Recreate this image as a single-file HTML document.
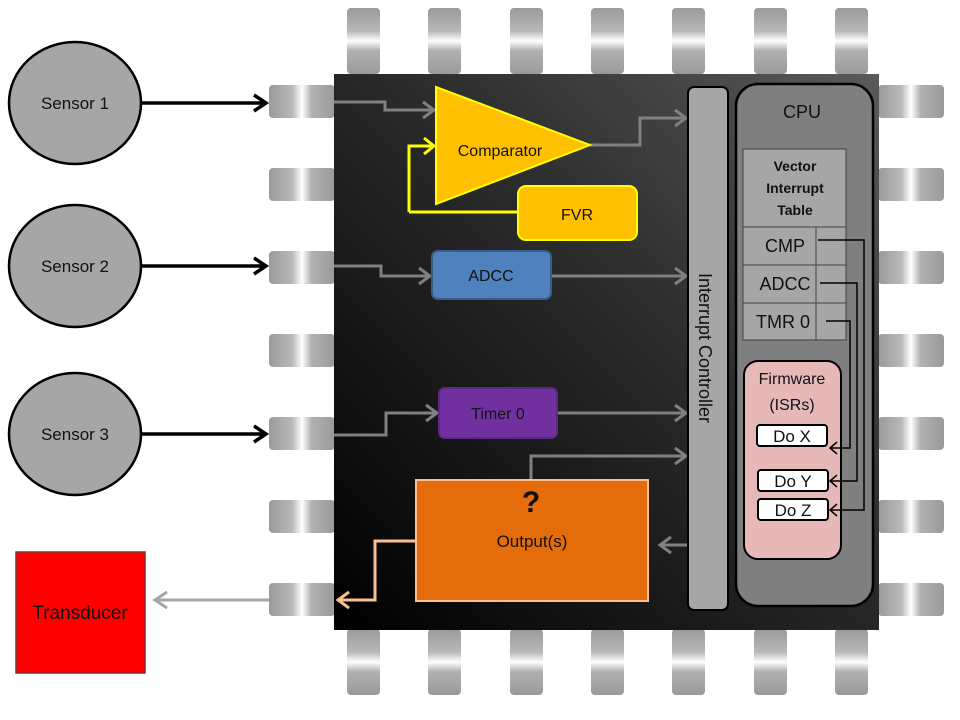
<!DOCTYPE html>
<html><head><meta charset="utf-8"><style>
html,body{margin:0;padding:0;background:#fff;width:960px;height:720px;overflow:hidden}
svg{display:block}
text{font-family:"Liberation Sans",sans-serif}
</style></head><body>
<svg width="960" height="720" viewBox="0 0 960 720" xmlns="http://www.w3.org/2000/svg">
<defs>
<linearGradient id="ph" x1="0" y1="0" x2="1" y2="0">
<stop offset="0" stop-color="#9a9a9a"/><stop offset="0.35" stop-color="#b8b8b8"/><stop offset="0.5" stop-color="#ffffff"/><stop offset="0.65" stop-color="#b0b0b0"/><stop offset="1" stop-color="#9a9a9a"/></linearGradient>
<linearGradient id="pv" x1="0" y1="0" x2="0" y2="1">
<stop offset="0" stop-color="#9a9a9a"/><stop offset="0.35" stop-color="#b8b8b8"/><stop offset="0.5" stop-color="#ffffff"/><stop offset="0.65" stop-color="#b0b0b0"/><stop offset="1" stop-color="#9a9a9a"/></linearGradient>
<linearGradient id="body" x1="1" y1="0" x2="0" y2="1">
<stop offset="0" stop-color="#5a5a5a"/><stop offset="0.45" stop-color="#2a2a2a"/><stop offset="1" stop-color="#000"/></linearGradient>
</defs>
<!-- top/bottom pins -->
<g fill="url(#pv)">
<rect x="347" y="8" width="33" height="66" rx="4"/><rect x="428" y="8" width="33" height="66" rx="4"/><rect x="510" y="8" width="33" height="66" rx="4"/><rect x="591" y="8" width="33" height="66" rx="4"/><rect x="672" y="8" width="33" height="66" rx="4"/><rect x="754" y="8" width="33" height="66" rx="4"/><rect x="835" y="8" width="33" height="66" rx="4"/>
<rect x="347" y="629" width="33" height="66" rx="4"/><rect x="428" y="629" width="33" height="66" rx="4"/><rect x="510" y="629" width="33" height="66" rx="4"/><rect x="591" y="629" width="33" height="66" rx="4"/><rect x="672" y="629" width="33" height="66" rx="4"/><rect x="754" y="629" width="33" height="66" rx="4"/><rect x="835" y="629" width="33" height="66" rx="4"/>
</g>
<g fill="url(#ph)">
<rect x="269" y="85" width="66" height="33" rx="4"/><rect x="269" y="168" width="66" height="33" rx="4"/><rect x="269" y="251" width="66" height="33" rx="4"/><rect x="269" y="334" width="66" height="33" rx="4"/><rect x="269" y="417" width="66" height="33" rx="4"/><rect x="269" y="500" width="66" height="33" rx="4"/><rect x="269" y="583" width="66" height="33" rx="4"/>
<rect x="878" y="85" width="66" height="33" rx="4"/><rect x="878" y="168" width="66" height="33" rx="4"/><rect x="878" y="251" width="66" height="33" rx="4"/><rect x="878" y="334" width="66" height="33" rx="4"/><rect x="878" y="417" width="66" height="33" rx="4"/><rect x="878" y="500" width="66" height="33" rx="4"/><rect x="878" y="583" width="66" height="33" rx="4"/>
</g>
<rect x="334" y="74" width="545" height="556" fill="url(#body)"/>
<!-- sensors -->
<g fill="#a6a6a6" stroke="#000" stroke-width="2.5">
<ellipse cx="75" cy="103" rx="66" ry="61"/><ellipse cx="75" cy="266" rx="66" ry="61"/><ellipse cx="75" cy="434" rx="66" ry="61"/>
</g>
<g font-size="17" fill="#111" text-anchor="middle">
<text x="75" y="109">Sensor  1</text><text x="75" y="272">Sensor  2</text><text x="75" y="440">Sensor  3</text>
</g>
<g stroke="#000" stroke-width="3.5" fill="none">
<path d="M141 103H266M254 95l12 8l-12 8"/><path d="M141 266H266M254 258l12 8l-12 8"/><path d="M141 434H266M254 426l12 8l-12 8"/>
</g>
<!-- transducer -->
<rect x="16" y="552" width="129" height="121" fill="#ff0000" stroke="#8b2a2a" stroke-width="1.5"/>
<text x="80" y="619" font-size="19" text-anchor="middle" fill="#111">Transducer</text>
<path d="M269 600H155M167 592l-12 8l12 8" stroke="#a6a6a6" stroke-width="3" fill="none"/>
<!-- gray connectors -->
<g stroke="#808080" stroke-width="3" fill="none">
<path d="M334 102H385V110H434M423 102l11 8l-11 8"/>
<path d="M590 145H640V118H686M675 110l11 8l-11 8"/>
<path d="M334 266H381V276H430M419 268l11 8l-11 8"/>
<path d="M551 276H686M675 268l11 8l-11 8"/>
<path d="M334 435H386V413H437M426 405l11 8l-11 8"/>
<path d="M557 413H686M675 405l11 8l-11 8"/>
<path d="M531 480V456H686M675 448l11 8l-11 8"/>
<path d="M688 545H660M671 537l-11 8l11 8"/>
</g>
<!-- comparator -->
<path d="M409 212V146H434M424 138l10 8l-10 8" stroke="#ffff00" stroke-width="3" fill="none"/>
<path d="M409 212H520" stroke="#ffff00" stroke-width="3"/>
<polygon points="436,87 436,204 590,145" fill="#ffc000" stroke="#ffff00" stroke-width="2"/>
<text x="500" y="156" font-size="16" text-anchor="middle" fill="#111">Comparator</text>
<rect x="518" y="186" width="119" height="54" rx="8" fill="#ffc000" stroke="#ffff00" stroke-width="2"/>
<text x="577" y="220" font-size="16" text-anchor="middle" fill="#111">FVR</text>
<rect x="432" y="251" width="119" height="48" rx="6" fill="#4f81bd" stroke="#385d8a" stroke-width="2"/>
<text x="491" y="281" font-size="16" text-anchor="middle" fill="#111">ADCC</text>
<rect x="439" y="388" width="118" height="50" rx="6" fill="#7030a0" stroke="#5c2a85" stroke-width="2"/>
<text x="498" y="419" font-size="16" text-anchor="middle" fill="#111">Timer 0</text>
<!-- output -->
<rect x="416" y="480" width="232" height="121" fill="#e46c0a" stroke="#fac090" stroke-width="2"/>
<text x="531" y="512" font-size="30" font-weight="bold" text-anchor="middle" fill="#111">?</text>
<text x="532" y="547" font-size="17" text-anchor="middle" fill="#111">Output(s)</text>
<path d="M416 541H375V600H338M349 592l-11 8l11 8" stroke="#fac090" stroke-width="3" fill="none"/>
<!-- interrupt controller -->
<rect x="688" y="87" width="40" height="523" rx="6" fill="#a6a6a6" stroke="#000" stroke-width="2"/>
<text transform="translate(699,348) rotate(90)" font-size="18" text-anchor="middle" fill="#111">Interrupt Controller</text>
<!-- CPU -->
<rect x="736" y="84" width="137" height="522" rx="22" fill="#7f7f7f" stroke="#000" stroke-width="2.5"/>
<text x="802" y="118" font-size="18" text-anchor="middle" fill="#111">CPU</text>
<g fill="#a6a6a6" stroke="#404040" stroke-width="1">
<rect x="743" y="149" width="103" height="78"/>
<rect x="743" y="227" width="103" height="38"/><rect x="743" y="265" width="103" height="38"/><rect x="743" y="303" width="103" height="37"/>
<path d="M816 227V340"/>
</g>
<g font-size="14" font-weight="bold" text-anchor="middle" fill="#111">
<text x="795" y="171">Vector</text><text x="795" y="193">Interrupt</text><text x="795" y="215">Table</text>
</g>
<g font-size="18" text-anchor="middle" fill="#111">
<text x="785" y="252">CMP</text><text x="785" y="290">ADCC</text><text x="783" y="328">TMR 0</text>
</g>
<rect x="744" y="361" width="97" height="198" rx="14" fill="#e6b9b8" stroke="#000" stroke-width="2"/>
<g font-size="16" text-anchor="middle" fill="#111"><text x="792" y="384">Firmware</text><text x="792" y="410">(ISRs)</text></g>
<g fill="#fff" stroke="#000" stroke-width="2">
<rect x="757" y="425" width="70" height="21" rx="3"/><rect x="758" y="470" width="70" height="21" rx="3"/><rect x="758" y="499" width="70" height="21" rx="3"/>
</g>
<g font-size="17" text-anchor="middle" fill="#111"><text x="792" y="442">Do X</text><text x="793" y="487">Do Y</text><text x="793" y="516">Do Z</text></g>
<g stroke="#000" stroke-width="1.5" fill="none">
<path d="M818 240H864V510H830M837 504l-7 6l7 6"/>
<path d="M820 283H857V481H830M837 475l-7 6l7 6"/>
<path d="M826 321H850V448H830M837 442l-7 6l7 6"/>
</g>
</svg>
</body></html>
